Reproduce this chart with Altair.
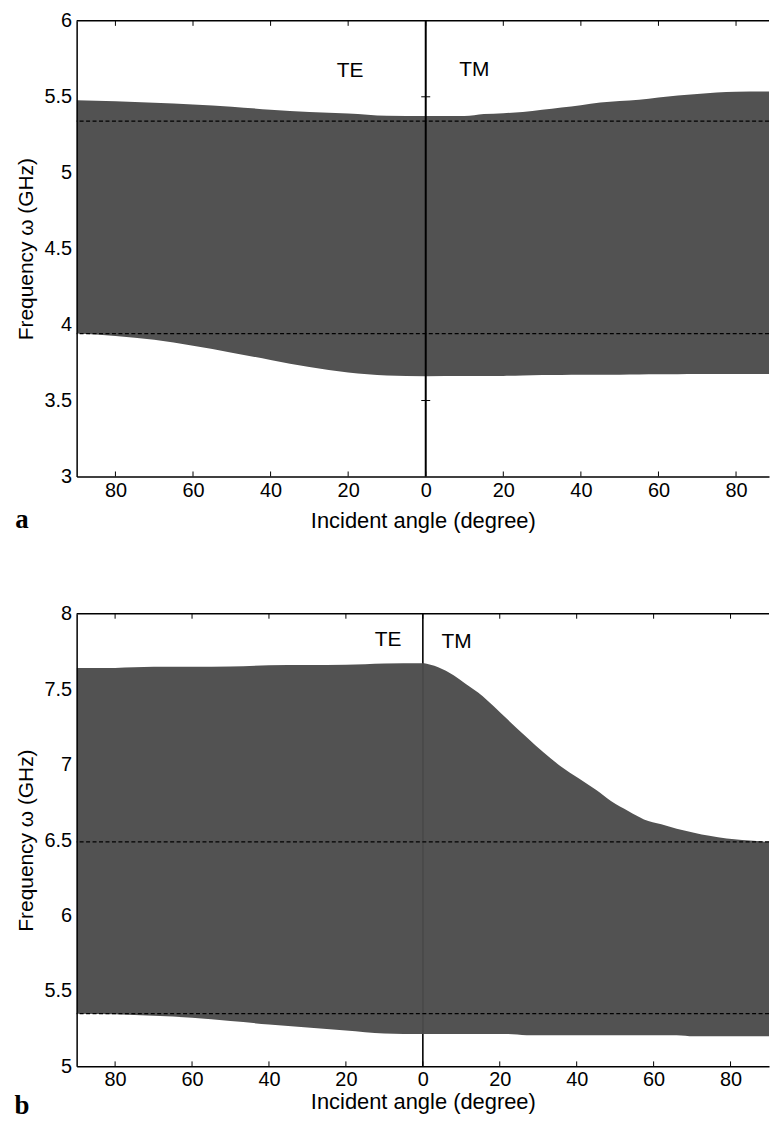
import altair as alt
import pandas as pd

FONT = "Liberation Sans"
FILL = "#525252"

XTICKS = [-80, -60, -40, -20, 0, 20, 40, 60, 80]

# ---------------- panel a ----------------
a_te_angle = [-90, -80, -70, -60, -50, -40, -30, -20, -10, 0]
a_te_upper = [5.477, 5.470, 5.460, 5.450, 5.435, 5.415, 5.400, 5.390, 5.375, 5.373]
a_te_lower = [3.941, 3.925, 3.900, 3.860, 3.815, 3.767, 3.720, 3.685, 3.665, 3.660]
a_tm_angle = [0, 10, 15, 20, 25, 30, 35, 40, 45, 50, 55, 60, 65, 70, 75, 80, 90]
a_tm_upper = [5.373, 5.373, 5.386, 5.392, 5.400, 5.415, 5.430, 5.445, 5.462,
              5.472, 5.480, 5.495, 5.508, 5.518, 5.528, 5.534, 5.535]
a_tm_lower = [3.660, 3.661, 3.661, 3.662, 3.665, 3.668, 3.668, 3.669, 3.669,
              3.670, 3.671, 3.673, 3.673, 3.674, 3.674, 3.674, 3.674]
a_dashed = [5.340, 3.941]
a_yticks = [3, 3.5, 4, 4.5, 5, 5.5, 6]
a_cross_ticks = [3.5, 5.5]
a_labels = ["TE", "TM"]
a_label_angle = [-19.5, 12.5]
a_label_freq = [5.667, 5.673]

# ---------------- panel b ----------------
b_te_angle = [-90, -80, -70, -60, -50, -40, -30, -20, -10, 0]
b_te_upper = [7.640, 7.641, 7.648, 7.649, 7.651, 7.658, 7.660, 7.662, 7.671, 7.672]
b_te_lower = [5.349, 5.345, 5.335, 5.322, 5.300, 5.278, 5.257, 5.237, 5.218, 5.214]
b_tm_angle = [0, 4, 8, 11, 15.5, 18.5, 22, 27, 31.5, 36, 40.5, 45, 49, 53.5,
              57.5, 62, 66, 70.5, 74.5, 79, 83, 90]
b_tm_upper = [7.673, 7.645, 7.592, 7.537, 7.455, 7.385, 7.300, 7.182, 7.079,
              6.986, 6.909, 6.833, 6.757, 6.691, 6.637, 6.604, 6.575, 6.549,
              6.528, 6.510, 6.501, 6.488]
b_tm_lower = [5.214, 5.214, 5.214, 5.214, 5.214, 5.214, 5.214, 5.207, 5.207,
              5.207, 5.207, 5.207, 5.207, 5.207, 5.207, 5.207, 5.207, 5.200,
              5.200, 5.200, 5.200, 5.200]
b_dashed = [6.488, 5.349]
b_yticks = [5, 5.5, 6, 6.5, 7, 7.5, 8]
b_labels = ["TE", "TM"]
b_label_angle = [-9.0, 8.8]
b_label_freq = [7.823, 7.81]

W = 696


def make_panel(te_angle, te_up, te_lo, tm_angle, tm_up, tm_lo, dashed,
               ydom, yticks, lab, lab_angle, lab_freq, letter, xdom, h,
               rule_on_top, label_pad, title_pad, letter_dy, cross_ticks=None):
    te = pd.DataFrame({"angle": te_angle, "upper": te_up, "lower": te_lo, "mode": "TE"})
    tm = pd.DataFrame({"angle": tm_angle, "upper": tm_up, "lower": tm_lo, "mode": "TM"})
    band = pd.concat([te, tm], ignore_index=True)
    xs = alt.Scale(domain=xdom, nice=False, zero=False)
    ys = alt.Scale(domain=ydom, nice=False, zero=False)
    xax = alt.Axis(orient="bottom", values=XTICKS, labelExpr="abs(datum.value)",
                   ticks=False, domain=True, grid=False, zindex=1,
                   labelPadding=label_pad, titlePadding=title_pad, titleFontSize=22,
                   title="Incident angle (degree)")
    yax = alt.Axis(orient="left", values=yticks, format="~g", ticks=False,
                   grid=False, domain=True, zindex=1, labelPadding=5,
                   titlePadding=8, titleFontSize=21, title="Frequency \u03c9 (GHz)")

    def X(f):
        return alt.X(f, scale=xs, axis=xax)

    def Y(f):
        return alt.Y(f, scale=ys, axis=yax)

    layers = []
    layers.append(
        alt.Chart(band).mark_area(color=FILL, opacity=1, clip=True,
                                  interpolate="monotone").encode(
            x=X("angle:Q"), y=Y("upper:Q"), y2="lower:Q", detail="mode:N"))
    if rule_on_top:
        layers.append(
            alt.Chart(pd.DataFrame({"angle": [0]})).mark_rule(
                color="black", strokeWidth=2).encode(x=X("angle:Q")))
        ct = pd.DataFrame({"angle": [0] * len(cross_ticks), "freq": cross_ticks})
        layers.append(
            alt.Chart(ct).mark_rule(color="black", strokeWidth=1,
                                    xOffset=-4.5, x2Offset=4.5).encode(
                x=X("angle:Q"), x2="angle:Q", y=Y("freq:Q")))
    else:
        layers.append(
            alt.Chart(pd.DataFrame({"angle": [0]})).mark_rule(
                color="#3a3a3a", strokeWidth=1).encode(x=X("angle:Q")))
        seg = pd.DataFrame({"angle": [0, 0],
                            "y1": [te_up[-1], ydom[0]],
                            "y2": [ydom[1], te_lo[-1]]})
        layers.append(
            alt.Chart(seg).mark_rule(color="black", strokeWidth=1.4).encode(
                x=X("angle:Q"), y=Y("y1:Q"), y2="y2:Q"))
    layers.append(
        alt.Chart(pd.DataFrame({"freq": dashed})).mark_rule(
            color="black", strokeDash=[4, 2.5], strokeWidth=1.2).encode(y=Y("freq:Q")))
    # top frame line
    layers.append(
        alt.Chart(pd.DataFrame({"freq": [ydom[1]]})).mark_rule(
            color="black", strokeWidth=1.5).encode(y=Y("freq:Q")))
    # inward tick marks on the top and bottom frame
    tk_top = pd.DataFrame({"angle": XTICKS, "freq": [ydom[1]] * len(XTICKS)})
    tk_bot = pd.DataFrame({"angle": XTICKS, "freq": [ydom[0]] * len(XTICKS)})
    layers.append(
        alt.Chart(tk_top).mark_rule(color="black", strokeWidth=1, y2Offset=5).encode(
            x=X("angle:Q"), y=Y("freq:Q"), y2="freq:Q"))
    layers.append(
        alt.Chart(tk_bot).mark_rule(color="black", strokeWidth=1, y2Offset=-5).encode(
            x=X("angle:Q"), y=Y("freq:Q"), y2="freq:Q"))
    layers.append(
        alt.Chart(pd.DataFrame({"label": lab, "angle": lab_angle, "freq": lab_freq}))
        .mark_text(font=FONT, fontSize=21, color="black")
        .encode(x=X("angle:Q"), y=Y("freq:Q"), text="label:N"))
    letter_df = pd.DataFrame({"t": [letter], "angle": [xdom[0]], "freq": [ydom[0]]})
    layers.append(
        alt.Chart(letter_df).mark_text(
            font="Liberation Serif", fontWeight="bold", fontSize=27, color="black",
            align="center", baseline="alphabetic", dx=-55, dy=letter_dy).encode(
            x=X("angle:Q"), y=Y("freq:Q"), text="t:N"))
    return alt.layer(*layers).properties(width=W, height=h)


pa = make_panel(a_te_angle, a_te_upper, a_te_lower, a_tm_angle, a_tm_upper, a_tm_lower,
                a_dashed, [3, 6], a_yticks, a_labels, a_label_angle, a_label_freq,
                "a", [-90, 88.5], 458, True, 4, 10, 52, a_cross_ticks)
pb = make_panel(b_te_angle, b_te_upper, b_te_lower, b_tm_angle, b_tm_upper, b_tm_lower,
                b_dashed, [5, 8], b_yticks, b_labels, b_label_angle, b_label_freq,
                "b", [-90, 90], 455, False, 3, 2, 48)

chart = (
    alt.vconcat(pa, pb, spacing=71)
    .properties(padding={"left": 6, "top": 0, "right": 0, "bottom": 0})
    .configure_view(stroke=None)
    .configure_axis(labelFont=FONT, titleFont=FONT, labelFontSize=20, titleFontSize=22,
                    labelColor="black", titleColor="black", titleFontWeight="normal",
                    domainColor="black", domainWidth=1.5, tickColor="black")
)

chart.save("out.html", embed_options={"renderer": "svg", "actions": False})
